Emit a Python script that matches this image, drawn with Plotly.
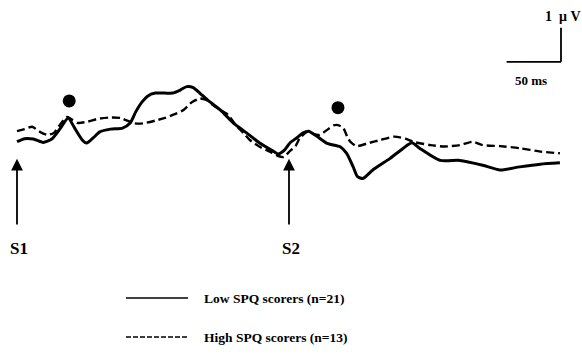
import plotly.graph_objects as go

# Grand-average waveforms (time in ms from S1, amplitude in µV, positive up)
low_t = [0, 7, 15, 24, 32, 40, 47, 53, 60, 64, 70, 76, 86, 97, 104, 109, 115, 120,
         127, 136, 143, 150, 156, 162, 168, 175, 187, 199, 211, 223, 235, 240, 246,
         251, 257, 263, 268, 276, 285, 297, 303, 309, 313, 318, 327, 343, 355, 363,
         370, 389, 407, 428, 444, 462, 481, 499]
low_v = [-0.05, 0.04, 0.03, -0.07, 0.03, 0.35, 0.65, 0.35, 0.0, -0.09, 0.06, 0.24,
         0.32, 0.35, 0.50, 0.82, 1.12, 1.29, 1.38, 1.38, 1.38, 1.47, 1.57, 1.54,
         1.38, 1.18, 0.88, 0.50, 0.21, -0.09, -0.32, -0.41, -0.29, -0.08, 0.06,
         0.21, 0.26, 0.10, -0.10, -0.20, -0.39, -0.79, -1.08, -1.13, -0.88, -0.54,
         -0.24, -0.08, -0.24, -0.60, -0.60, -0.74, -0.88, -0.79, -0.71, -0.67]

high_t = [0, 7, 14, 21, 28, 34, 40, 46, 51, 56, 65, 74, 85, 95, 102, 108, 116, 127,
          136, 145, 153, 161, 168, 174, 180, 187, 194, 201, 208, 214, 223, 233, 240,
          245, 251, 256, 260, 267, 272, 278, 286, 291, 295, 300, 304, 307, 312, 322,
          334, 347, 357, 364, 380, 393, 407, 419, 428, 444, 462, 481, 499]
high_v = [0.26, 0.32, 0.39, 0.24, 0.15, 0.21, 0.47, 0.68, 0.59, 0.50, 0.54, 0.62,
          0.66, 0.65, 0.56, 0.49, 0.49, 0.57, 0.65, 0.76, 0.88, 1.12, 1.22, 1.18,
          1.03, 0.88, 0.74, 0.44, 0.21, 0.0, -0.20, -0.35, -0.47, -0.50, -0.32,
          -0.18, 0.06, 0.24, 0.18, 0.15, 0.32, 0.43, 0.44, 0.35, 0.06, -0.07, -0.18,
          -0.10, 0.0, 0.10, 0.04, -0.05, -0.15, -0.19, -0.15, -0.05, -0.15, -0.18,
          -0.24, -0.34, -0.39]

# P50 peak markers
peak_t = [48, 295]
peak_v = [1.15, 0.95]

# Stimulus onsets
stim_names = ["S1", "S2"]
stim_t = [0, 250]

legend_labels = ["Low SPQ scorers (n=21)", "High SPQ scorers (n=13)"]

# Calibration bar
cal_ms = 50
cal_uv = 1
cal_t_end = 500
cal_v_base = 2.3

FONT = "Liberation Serif"
INK = "#000000"

fig = go.Figure()
fig.add_trace(go.Scatter(x=high_t, y=high_v, mode="lines",
                         line=dict(color=INK, width=2.4, dash="8px,4px",
                                   shape="spline", smoothing=0.6),
                         hoverinfo="skip"))
fig.add_trace(go.Scatter(x=low_t, y=low_v, mode="lines",
                         line=dict(color=INK, width=3, shape="spline", smoothing=0.6),
                         hoverinfo="skip"))
fig.add_trace(go.Scatter(x=peak_t, y=peak_v, mode="markers",
                         marker=dict(color=INK, size=13), hoverinfo="skip"))

annotations = []
for name, t in zip(stim_names, stim_t):
    annotations.append(dict(x=t, y=-0.55, xref="x", yref="y",
                            ax=t, ay=-2.53, axref="x", ayref="y",
                            showarrow=True, arrowhead=2, arrowsize=1.3,
                            arrowwidth=1.8, arrowcolor=INK, text=""))
    annotations.append(dict(x=t + 1.5, y=-3.18, xref="x", yref="y", text=f"<b>{name}</b>",
                            showarrow=False, font=dict(family=FONT, size=17, color=INK)))

# calibration bar
shapes = [
    dict(type="line", xref="x", yref="y", x0=cal_t_end - cal_ms, x1=cal_t_end,
         y0=cal_v_base, y1=cal_v_base, line=dict(color=INK, width=1.8)),
    dict(type="line", xref="x", yref="y", x0=cal_t_end, x1=cal_t_end,
         y0=cal_v_base, y1=cal_v_base + cal_uv, line=dict(color=INK, width=1.8)),
]
annotations.append(dict(x=cal_t_end + 2, y=cal_v_base + cal_uv + 0.33, xref="x", yref="y",
                        text=f"<b>{cal_uv}  μ V</b>", showarrow=False, xanchor="center",
                        font=dict(family=FONT, size=14, color=INK)))
annotations.append(dict(x=cal_t_end - cal_ms / 2 - 3, y=cal_v_base - 0.55, xref="x", yref="y",
                        text=f"<b>{cal_ms} ms</b>", showarrow=False,
                        font=dict(family=FONT, size=13, color=INK)))

# hand-drawn legend
legend_y = [1 - 298 / 360, 1 - 337 / 360]
legend_dash = ["solid", "5px,2px"]
for lab, ly, dsh in zip(legend_labels, legend_y, legend_dash):
    shapes.append(dict(type="line", xref="paper", yref="paper",
                       x0=126 / 582, x1=188 / 582, y0=ly, y1=ly,
                       line=dict(color=INK, width=1.6, dash=dsh)))
    annotations.append(dict(x=202 / 582, y=ly, xref="paper", yref="paper",
                            text=f"<b>{lab}</b>", showarrow=False, xanchor="left",
                            yanchor="middle", font=dict(family=FONT, size=13.5, color=INK)))

fig.update_layout(
    width=582, height=360,
    margin=dict(l=0, r=0, t=0, b=0),
    paper_bgcolor="white", plot_bgcolor="white",
    showlegend=False,
    xaxis=dict(range=[-15.625, 519.3], visible=False, fixedrange=True),
    yaxis=dict(range=[-6.47, 4.118], visible=False, fixedrange=True),
    shapes=shapes, annotations=annotations,
)

fig.write_html("out.html")
